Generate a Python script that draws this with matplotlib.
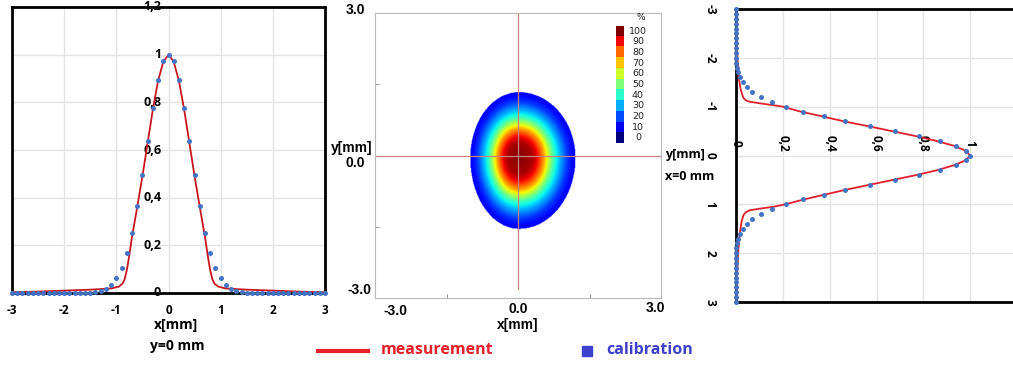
import numpy as np
import matplotlib
matplotlib.use('Agg')
import matplotlib.pyplot as plt
from matplotlib.lines import Line2D

plt.rcParams['font.family'] = ['Open Sans', 'DejaVu Sans']

W, H = 1013, 365

# calibration profile along x (y = 0 mm), values for x = 0.0 .. 3.0 step 0.1 (mirrored)
calib_x_half = [1.0, 0.972, 0.895, 0.776, 0.639, 0.497, 0.365, 0.252, 0.166, 0.103,
                0.061, 0.034, 0.017, 0.007, 0.003, 0.001, 0, 0, 0, 0,
                0, 0, 0, 0, 0, 0, 0, 0, 0, 0, 0]
# measurement profile along x
meas_x_pos = [-3, -2.5, -2, -1.5, -1.1, -0.95, -0.88, -0.84, -0.8, -0.75, -0.7, -0.6, -0.5,
              -0.4, -0.3, -0.2, -0.1, 0, 0.1, 0.2, 0.3, 0.4, 0.5, 0.6, 0.7, 0.75, 0.8,
              0.84, 0.88, 0.95, 1.1, 1.5, 2, 2.5, 3]
meas_x_val = [0.003, 0.006, 0.01, 0.014, 0.019, 0.027, 0.04, 0.058, 0.095, 0.16, 0.235, 0.36, 0.49,
              0.63, 0.77, 0.89, 0.97, 1.0, 0.97, 0.89, 0.77, 0.63, 0.49, 0.36, 0.235, 0.16, 0.095,
              0.058, 0.04, 0.027, 0.019, 0.014, 0.01, 0.006, 0.003]

# calibration profile along y (x = 0 mm), values for y = 0.0 .. 3.0 step 0.1 (mirrored)
calib_y_half = [1.0, 0.983, 0.94, 0.871, 0.782, 0.68, 0.573, 0.467, 0.375, 0.285,
                0.212, 0.154, 0.107, 0.07, 0.046, 0.03, 0.018, 0.01, 0.005, 0.002,
                0.001, 0, 0, 0, 0, 0, 0, 0, 0, 0, 0]
# measurement profile along y
meas_y_pos = [-3, -2.5, -2, -1.6, -1.4, -1.25, -1.17, -1.13, -1.1, -1.07, -1.03, -1.0, -0.9,
              -0.8, -0.7, -0.6, -0.5, -0.4, -0.3, -0.2, -0.1, 0, 0.1, 0.2, 0.3, 0.4, 0.5,
              0.6, 0.7, 0.8, 0.9, 1.0, 1.05, 1.09, 1.12, 1.16, 1.22, 1.35, 1.6, 2, 2.5, 3]
meas_y_val = [0.0, 0.002, 0.006, 0.012, 0.018, 0.026, 0.033, 0.042, 0.06, 0.1, 0.16, 0.2, 0.275,
              0.37, 0.46, 0.565, 0.665, 0.765, 0.855, 0.93, 0.98, 1.0, 0.98, 0.93, 0.86, 0.77, 0.67,
              0.57, 0.47, 0.38, 0.29, 0.21, 0.16, 0.1, 0.06, 0.042, 0.032, 0.024, 0.016, 0.009, 0.004, 0.001]

# beam spot: intensity (%) vs normalised radius
spot_r = [0, 0.26, 0.37, 0.5, 0.58, 0.68, 0.8, 0.94, 1.1]
spot_level = [100, 96, 89, 72, 58, 42, 30, 18, 10]
spot_center = (0.02, -0.05)
spot_scale_left, spot_scale_right = 0.93, 1.08
spot_scale_up, spot_scale_down = 1.26, 1.36

cbar_levels = [100, 90, 80, 70, 60, 50, 40, 30, 20, 10, 0]

profile_pos = np.round(np.arange(-30, 31) / 10, 1)
calib_x = np.concatenate([calib_x_half[:0:-1], calib_x_half])
calib_y = np.concatenate([calib_y_half[:0:-1], calib_y_half])

red_line = '#c8161f'
blue_dot = '#4472c4'

fig = plt.figure(figsize=(W / 100, H / 100), dpi=100)


def px_axes(x0, y0, x1, y1):
    return fig.add_axes([x0 / W, 1 - y1 / H, (x1 - x0) / W, (y1 - y0) / H])


def ftext(x, y, s, **kw):
    fig.text(x / W, 1 - y / H, s, **kw)


# ---------------- left: profile along x ----------------
ax1 = px_axes(12, 7, 325, 293)
ax1.set_xlim(-3, 3)
ax1.set_ylim(0, 1.2)
ax1.set_xticks(range(-3, 4))
ax1.set_xticklabels(['-3', '-2', '-1', '0', '1', '2', '3'], fontweight='bold', fontsize=8.5)
ax1.set_yticks([0, 0.2, 0.4, 0.6, 0.8, 1.0, 1.2])
ax1.tick_params(axis='both', length=0, labelleft=False, pad=8)
ax1.grid(color='#e4e4e4', lw=1)
ax1.set_axisbelow(True)
for sp in ax1.spines.values():
    sp.set_linewidth(2)
    sp.set_color('black')
for v, lab in zip([0, 0.2, 0.4, 0.6, 0.8, 1.0, 1.2], ['0', '0,2', '0,4', '0,6', '0,8', '1', '1,2']):
    ax1.text(-0.14, v, lab, ha='right', va='center', fontsize=9, fontweight='bold', clip_on=False)
ax1.plot(meas_x_pos, meas_x_val, color=red_line, lw=1.3, zorder=3)
ax1.plot(profile_pos, calib_x, 'o', color=blue_dot, ms=3.6, mec='none', clip_on=False, zorder=4)
ftext(176, 325, 'x[mm]', ha='center', va='center', fontsize=10, fontweight='bold')
ftext(177, 346, 'y=0 mm', ha='center', va='center', fontsize=10, fontweight='bold')

# ---------------- middle: beam spot ----------------
ax2 = px_axes(375, 13, 661, 298)
gx = np.linspace(-3, 3, 500)
X, Y = np.meshgrid(gx, gx)
dx = X - spot_center[0]
dy = Y - spot_center[1]
sx = np.where(dx < 0, spot_scale_left, spot_scale_right)
sy = np.where(dy > 0, spot_scale_up, spot_scale_down)
r = np.sqrt((dx / sx) ** 2 + (dy / sy) ** 2)
level = np.interp(r, spot_r, spot_level, right=np.nan)
cmap = plt.get_cmap('jet').copy()
cmap.set_bad('white')
ax2.imshow(np.ma.masked_invalid(level), extent=[-3, 3, -3, 3], origin='lower',
           cmap=cmap, vmin=0, vmax=100, aspect='auto', interpolation='bilinear')
ax2.set_xlim(-3, 3)
ax2.set_ylim(-3, 3)
ax2.axvline(0, ymin=0.03, ymax=1, color='#c98080', lw=0.9)
ax2.axhline(0, color='#c98080', lw=0.9)
ax2.set_xticks([-1.5, 1.5])
ax2.set_yticks([-1.5, 1.5])
ax2.tick_params(direction='in', length=3, color='#999999', labelbottom=False, labelleft=False)
for sp in ax2.spines.values():
    sp.set_color('#b8b8b8')
    sp.set_linewidth(0.8)

mid_font = dict(ha='center', va='center', fontsize=10, fontweight='bold', family='Liberation Sans')
ftext(355, 10, '3.0', **mid_font)
ftext(352, 148, 'y[mm]', **mid_font)
ftext(355, 163, '0.0', **mid_font)
ftext(359, 290, '-3.0', **mid_font)
ftext(395, 311, '-3.0', **mid_font)
ftext(518, 309, '0.0', **mid_font)
ftext(655, 308, '3.0', **mid_font)
ftext(518, 325, 'x[mm]', **mid_font)

# colour scale
cax = px_axes(616, 26, 624, 143)
cax.imshow(np.array(cbar_levels).reshape(-1, 1), cmap='jet', vmin=0, vmax=100,
           aspect='auto', interpolation='nearest', extent=[0, 1, -0.5, len(cbar_levels) - 0.5])
cax.set_xticks([])
cax.set_yticks([])
for sp in cax.spines.values():
    sp.set_visible(False)
for i, lv in enumerate(cbar_levels):
    ftext(638, 26 + (i + 0.5) * 117 / len(cbar_levels), str(lv), ha='center', va='center',
          fontsize=6.8, family='DejaVu Sans', color='#222222')
ftext(641, 17, '%', ha='center', va='center', fontsize=6.5, family='DejaVu Sans', color='#222222')

# ---------------- right: profile along y (rotated) ----------------
ax3 = px_axes(736, 9, 1017, 302)
ax3.set_xlim(0, 1.2)
ax3.set_ylim(3, -3)
ax3.set_xticks([0, 0.2, 0.4, 0.6, 0.8, 1.0, 1.2])
ax3.set_yticks(range(-3, 4))
ax3.set_yticklabels(['-3', '-2', '-1', '0', '1', '2', '3'], fontweight='bold', fontsize=8.5,
                    rotation=-90, va='center')
ax3.tick_params(axis='both', length=0, labelbottom=False, pad=14)
ax3.grid(color='#e4e4e4', lw=1)
ax3.set_axisbelow(True)
for sp in ax3.spines.values():
    sp.set_linewidth(2)
    sp.set_color('black')
for v, lab in zip([0, 0.2, 0.4, 0.6, 0.8, 1.0], ['0', '0,2', '0,4', '0,6', '0,8', '1']):
    ax3.text(v, -0.24, lab, rotation=-90, ha='center', va='center', fontsize=8.5, fontweight='bold')
ax3.plot(meas_y_val, meas_y_pos, color='#e0202a', lw=1.3, zorder=3)
ax3.plot(calib_y, profile_pos, 'o', color=blue_dot, ms=3.6, mec='none', clip_on=False, zorder=4)
ftext(665, 155, 'y[mm]', ha='left', va='center', fontsize=9, fontweight='bold')
ftext(665, 176, 'x=0 mm', ha='left', va='center', fontsize=9, fontweight='bold')

# ---------------- legend ----------------
fig.add_artist(Line2D([318 / W, 368 / W], [1 - 351 / H, 1 - 351 / H], color='#e8202a', lw=3))
ftext(381, 350, 'measurement', ha='left', va='center', fontsize=11.5, fontweight='bold', color='#e8202a')
fig.add_artist(Line2D([587 / W], [1 - 351 / H], marker='s', ms=6.5, color='#3d40cc', lw=0))
ftext(606, 350, 'calibration', ha='left', va='center', fontsize=11.5, fontweight='bold', color='#3d40cc')

fig.savefig('out.png', dpi=100)
